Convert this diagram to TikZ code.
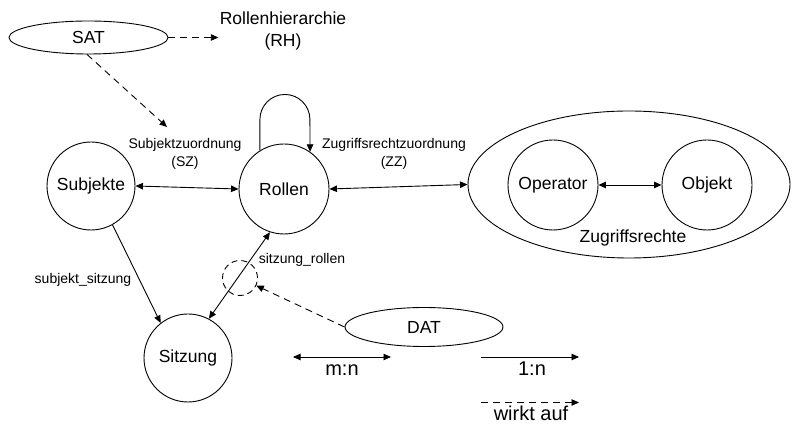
\documentclass[tikz,border=0pt]{standalone}
\usepackage{fontspec}
\setmainfont{Liberation Sans}
\usetikzlibrary{arrows.meta,shapes.geometric}

\tikzset{
  tip/.tip={Triangle[length=7.5pt,width=6.5pt]},
  every picture/.style={line width=0.9pt},
  set/.style={draw, circle, inner sep=0pt, font=\fontsize{17.5}{20}\selectfont},
  area/.style={draw, ellipse, inner sep=0pt, font=\fontsize{17.5}{20}\selectfont},
  lbl/.style={inner sep=1pt, align=center, font=\fontsize{14}{18}\selectfont},
  leg/.style={inner sep=0pt, font=\fontsize{20}{22}\selectfont},
  both/.style={tip-tip},
  one/.style={-tip},
  acts/.style={-tip, dash pattern=on 7pt off 5pt},
}

\begin{document}
\begin{tikzpicture}[x=1pt, y=1pt]
  \useasboundingbox (0,0) rectangle (793,425);

  % administration tools and role hierarchy
  \node[area, minimum width=159pt, minimum height=33pt] (SAT) at (88.5,387.5) {SAT};
  \node[lbl, font=\fontsize{17.5}{22}\selectfont, inner sep=1pt] (RH) at (283,394) {Rollenhierarchie\\(RH)};
  \coordinate (satTip) at (167,298);

  % main sets
  \node[set, minimum size=88pt] (Subjekte) at (91,239) {Subjekte};
  \node[set, minimum size=90pt] (Rollen) at (284,236) {Rollen};
  \node[set, minimum size=88pt] (Sitzung) at (188,67) {Sitzung};

  % access rights: operator and object
  \node[area, minimum width=322pt, minimum height=147pt] (Zugriff) at (629,240.5) {};
  \node[set, minimum size=90pt] (Operator) at (553,240) {Operator};
  \node[set, minimum size=90pt] (Objekt) at (707,240) {Objekt};
  \node[inner sep=0pt, font=\fontsize{17.5}{20}\selectfont] (ZR) at (633,187) {Zugriffsrechte};

  % dynamic administration tool
  \node[area, minimum width=158pt, minimum height=39pt] (DAT) at (424,98) {DAT};
  \node[draw, circle, dash pattern=on 6pt off 4pt, minimum size=35pt, inner sep=0pt] (dc) at (240,147) {};

  % relations
  \draw[both] (Subjekte.east) -- (Rollen.west);
  \draw[both] (Rollen.east) -- (Zugriff.west);
  \draw[both] (Operator.east) -- (Objekt.west);
  \draw[one] (Subjekte.299) -- (Sitzung.128);
  \draw[both] (Sitzung.62) -- (Rollen.252);
  \draw[one] (Rollen.122) -- ++(0,31) arc[start angle=180, end angle=0, radius=25] -- (Rollen.55);

  % "acts on" links
  \draw[acts] (SAT.east) -- (SAT.east -| RH.west);
  \draw[acts] (SAT.265) -- (satTip);
  \draw[acts] (DAT.west) -- (dc);

  % relation labels
  \node[lbl] (SZ) at (185,271) {Subjektzuordnung\\(SZ)};
  \node[lbl] (ZZ) at (394,271) {Zugriffsrechtzuordnung\\(ZZ)};
  \node[lbl] (ss) at (83,145) {subjekt\_sitzung};
  \node[lbl] (sr) at (302,165) {sitzung\_rollen};

  % legend
  \coordinate (mnL) at (293,68);
  \coordinate (mnR) at (391,68);
  \coordinate (onL) at (481,68);
  \coordinate (onR) at (579,68);
  \coordinate (waL) at (481,22.5);
  \coordinate (waR) at (579,22.5);
  \draw[both] (mnL) -- (mnR);
  \draw[one] (onL) -- (onR);
  \draw[acts] (waL) -- (waR);
  \node[leg] (mn) at (342,55) {m:n};
  \node[leg] (on) at (532,56) {1:n};
  \node[leg, anchor=base] (wa) at (531,4.5) {wirkt auf};
\end{tikzpicture}
\end{document}
